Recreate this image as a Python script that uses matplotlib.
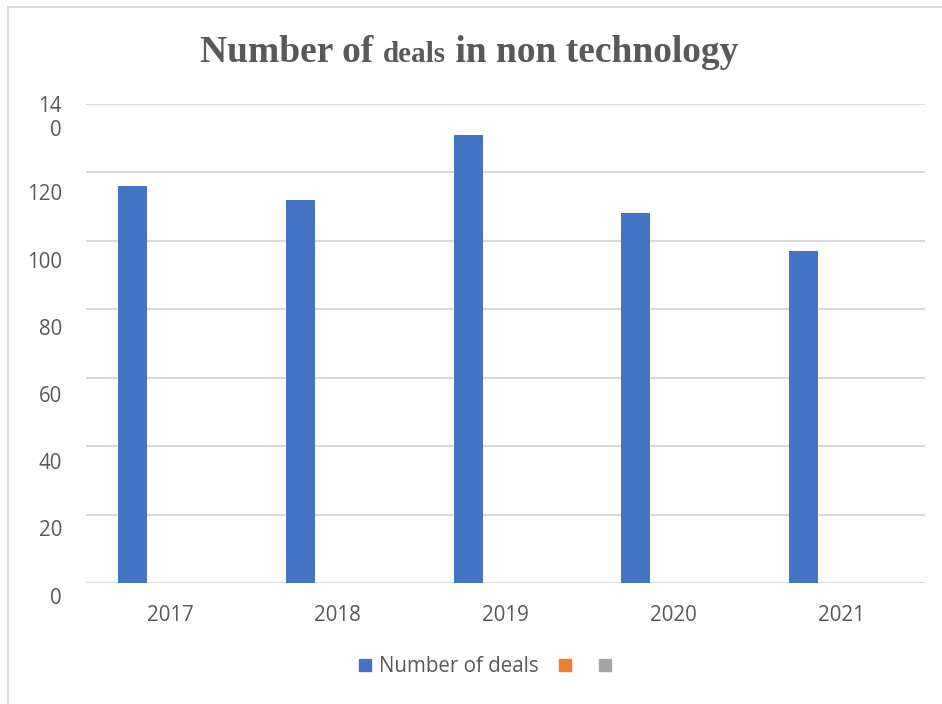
import matplotlib
matplotlib.use("Agg")
import matplotlib.pyplot as plt
from matplotlib.lines import Line2D
import numpy as np

# ---- data ----
years = ["2017", "2018", "2019", "2020", "2021"]
deals = [116, 112, 131, 108, 97]
series_names = ["Number of deals", "", ""]
series_colors = ["#4472C4", "#ED7D31", "#A5A5A5"]
y_ticks = [0, 20, 40, 60, 80, 100, 120, 140]
y_tick_labels = ["0", "20", "40", "60", "80", "100", "120", "14\n0"]

TEXT = "#595959"
GRID = "#D9D9D9"
FS = 14.8
W, H, DPI = 942, 704, 100

fig = plt.figure(figsize=(W / DPI, H / DPI), dpi=DPI)
fig.patch.set_facecolor("white")

# chart-area border (top and left edges visible)
fig.add_artist(Line2D([8 / W, 8 / W], [0, 1 - 7 / H], transform=fig.transFigure,
                      color=GRID, lw=1.5))
fig.add_artist(Line2D([8 / W, 1], [1 - 7 / H, 1 - 7 / H], transform=fig.transFigure,
                      color=GRID, lw=1.5))

left, right = 86 / W, 925 / W
bottom, top = 1 - 583 / H, 1 - 104 / H
ax = fig.add_axes([left, bottom, right - left, top - bottom])

x = np.arange(len(years))
bar_w = 0.173
bar_off = -0.223
ax.bar(x + bar_off, deals, width=bar_w, color=series_colors[0], zorder=3)

ax.set_xlim(-0.5, len(years) - 0.5)
ax.set_ylim(0, 140)

for s in ax.spines.values():
    s.set_visible(False)
ax.set_yticks(y_ticks)
ax.set_yticklabels([])
ax.yaxis.grid(True, color=GRID, lw=1.5, zorder=0)
ax.set_axisbelow(True)
ax.tick_params(axis="y", length=0)
ax.axhline(0, color=GRID, lw=1.5, zorder=2)

ax.set_xticks(x)
ax.set_xticklabels(years, fontsize=FS, color=TEXT, family="Open Sans")
ax.tick_params(axis="x", length=0, pad=16)

# y labels sit a little below their gridlines
ytr = ax.get_yaxis_transform()
for v, lab in zip(y_ticks, y_tick_labels):
    if "\n" in lab:
        yy = v - 4.2
    else:
        yy = v - 4.4 - 0.018 * v
    ax.text(-24 / (925 - 86), yy, lab, transform=ytr, ha="right", va="center",
            fontsize=FS, color=TEXT, family="Open Sans", linespacing=1.15,
            multialignment="right")

# legend
handles = [Line2D([], [], marker="s", ls="none", markersize=9,
                  markerfacecolor=c, markeredgecolor=c) for c in series_colors]
fig.legend(handles, series_names, loc="center", bbox_to_anchor=(489 / W, 1 - 667 / H),
           ncol=3, frameon=False, handlelength=0.6, handletextpad=0.37,
           columnspacing=0.98, borderpad=0,
           prop={"family": "Open Sans", "size": FS}, labelcolor=TEXT)

# title with a smaller middle word
parts = [("Number of ", 27), ("deals", 21), (" in non technology", 27)]
renderer = fig.canvas.get_renderer()
texts = []
for s, sz in parts:
    t = fig.text(0, 1 - 62 / H, s, fontsize=sz, fontweight="bold", color=TEXT,
                 family="Liberation Serif", ha="left", va="baseline")
    texts.append(t)
widths = [t.get_window_extent(renderer).width for t in texts]
x0 = 469 - sum(widths) / 2
for t, w in zip(texts, widths):
    t.set_x(x0 / W)
    x0 += w

fig.savefig("out.png", dpi=DPI, facecolor="white")
